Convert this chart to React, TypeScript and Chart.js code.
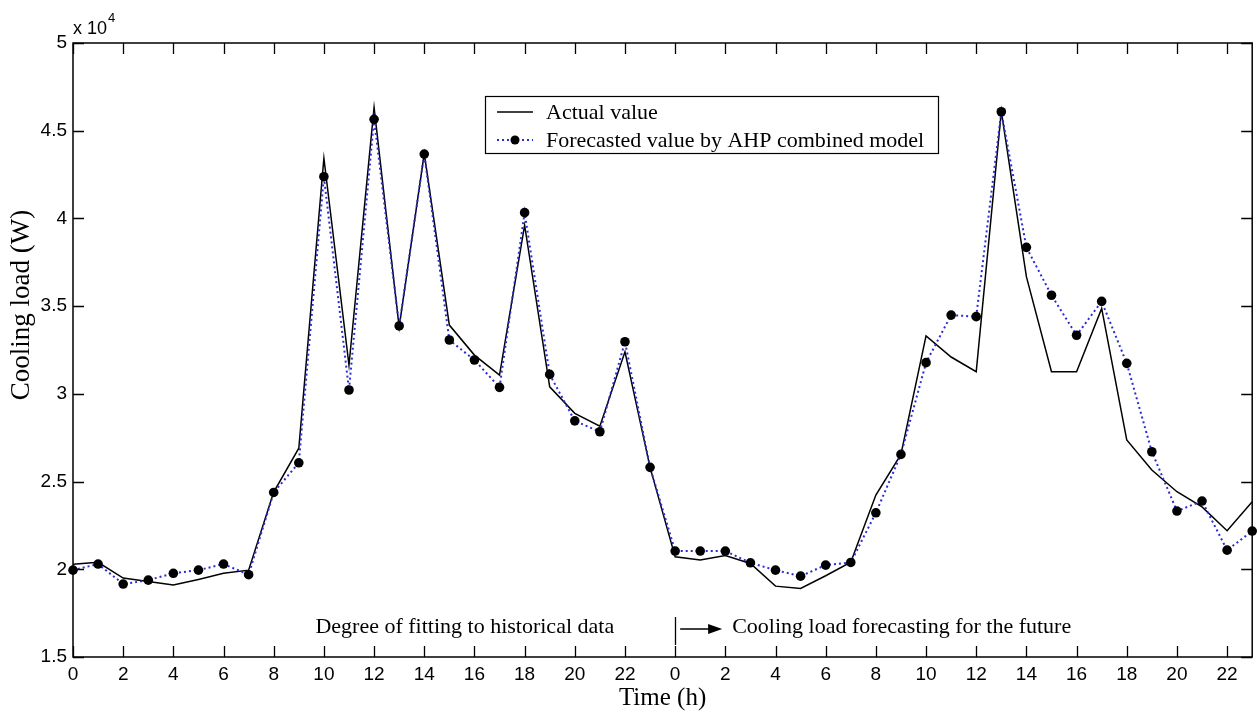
import React, { useEffect, useRef } from "react";
import { Chart, registerables } from "chart.js";

Chart.register(...registerables);

// Hour index over two consecutive days (0..23 historical, 24..47 forecast)
const hourIndex = [
  0, 1, 2, 3, 4, 5, 6, 7, 8, 9, 10, 11, 12, 13, 14, 15, 16, 17, 18, 19, 20, 21, 22, 23,
  24, 25, 26, 27, 28, 29, 30, 31, 32, 33, 34, 35, 36, 37, 38, 39, 40, 41, 42, 43, 44, 45, 46, 47,
];

// x tick positions and their hour-of-day labels
const xTickValues = [0, 2, 4, 6, 8, 10, 12, 14, 16, 18, 20, 22, 24, 26, 28, 30, 32, 34, 36, 38, 40, 42, 44, 46];
const xTickLabels = ["0", "2", "4", "6", "8", "10", "12", "14", "16", "18", "20", "22", "0", "2", "4", "6", "8", "10", "12", "14", "16", "18", "20", "22"];

// Cooling load (W)
const actualLoad = [
  20280, 20400, 19500, 19300, 19100, 19420, 19770, 19950, 24400, 26900, 43430, 31640,
  46330, 33800, 43700, 33920, 32210, 31070, 39620, 30400, 28890, 28160, 32400, 25810,
  20710, 20530, 20790, 20330, 19040, 18910, 19630, 20400, 24230, 26550, 33300, 32100,
  31260, 46100, 36680, 31260, 31260, 34870, 27370, 25660, 24420, 23560, 22200, 23850,
];

const forecastLoad = [
  19950, 20300, 19160, 19380, 19770, 19950, 20300, 19690, 24380, 26070, 42380, 30220,
  45650, 33870, 43670, 33070, 31930, 30370, 40330, 31110, 28460, 27840, 32970, 25810,
  21040, 21040, 21040, 20370, 19950, 19610, 20240, 20390, 23220, 26550, 31780, 34490,
  34400, 46080, 38350, 35620, 33340, 35270, 31740, 26700, 23320, 23890, 21090, 22180,
];

const seriesNames = ["Actual value", "Forecasted value by AHP combined model"];
const xTitle = "Time (h)";
const yTitle = "Cooling load (W)";
const leftNote = "Degree of fitting to historical data";
const rightNote = "Cooling load forecasting for the future";
const splitHour = 24;

const SANS = '"Liberation Sans", Arial, sans-serif';
const SERIF = '"Liberation Serif", "Times New Roman", serif';

const framePlugin = {
  id: "frame",
  afterDraw(chart: any) {
    const { ctx, chartArea: a, scales } = chart;
    const xs = scales.x;
    const ys = scales.y;
    ctx.save();
    ctx.strokeStyle = "#000";
    ctx.lineWidth = 1.5;
    ctx.strokeRect(a.left, a.top, a.right - a.left, a.bottom - a.top);

    // inward ticks on all four sides
    const tl = 11;
    ctx.lineWidth = 1.3;
    ctx.beginPath();
    xs.ticks.forEach((t: any) => {
      const px = Math.round(xs.getPixelForValue(t.value)) + 0.5;
      ctx.moveTo(px, a.bottom);
      ctx.lineTo(px, a.bottom - tl);
      ctx.moveTo(px, a.top);
      ctx.lineTo(px, a.top + tl);
    });
    ys.ticks.forEach((t: any) => {
      const py = Math.round(ys.getPixelForValue(t.value)) + 0.5;
      ctx.moveTo(a.left, py);
      ctx.lineTo(a.left + tl, py);
      ctx.moveTo(a.right, py);
      ctx.lineTo(a.right - tl, py);
    });
    ctx.stroke();

    // exponent label
    ctx.fillStyle = "#000";
    ctx.textAlign = "left";
    ctx.textBaseline = "alphabetic";
    ctx.font = `18px ${SANS}`;
    ctx.fillText("x 10", a.left, a.top - 9);
    const w = ctx.measureText("x 10").width;
    ctx.font = `13px ${SANS}`;
    ctx.fillText("4", a.left + w + 1, a.top - 21);

    // y axis title
    ctx.save();
    ctx.translate(22, 305);
    ctx.rotate(-Math.PI / 2);
    ctx.font = `27px ${SERIF}`;
    ctx.textAlign = "center";
    ctx.textBaseline = "middle";
    ctx.fillText(yTitle, 0, 0);
    ctx.restore();

    // annotations about historical / forecast split
    const sx = xs.getPixelForValue(splitHour);
    ctx.font = `22px ${SERIF}`;
    ctx.textAlign = "right";
    ctx.fillText(leftNote, sx - 61, 633);
    ctx.textAlign = "left";
    ctx.fillText(rightNote, sx + 57, 633);
    ctx.lineWidth = 1.3;
    ctx.beginPath();
    ctx.moveTo(Math.round(sx) + 0.5, 617);
    ctx.lineTo(Math.round(sx) + 0.5, 645);
    ctx.moveTo(sx + 5, 629);
    ctx.lineTo(sx + 36, 629);
    ctx.stroke();
    ctx.beginPath();
    ctx.moveTo(sx + 47, 629);
    ctx.lineTo(sx + 33, 624);
    ctx.lineTo(sx + 33, 634);
    ctx.closePath();
    ctx.fill();

    // legend box
    const lx = 485, ly = 96, lw = 453, lh = 57;
    ctx.fillStyle = "#fff";
    ctx.fillRect(lx, ly, lw, lh);
    ctx.strokeStyle = "#000";
    ctx.lineWidth = 1.2;
    ctx.strokeRect(lx + 0.5, ly + 0.5, lw, lh);
    ctx.lineWidth = 1.5;
    ctx.beginPath();
    ctx.moveTo(497, 112);
    ctx.lineTo(533, 112);
    ctx.stroke();
    ctx.strokeStyle = "#2b2bd9";
    ctx.lineWidth = 2;
    ctx.setLineDash([2, 3]);
    ctx.beginPath();
    ctx.moveTo(497, 140);
    ctx.lineTo(533, 140);
    ctx.stroke();
    ctx.setLineDash([]);
    ctx.fillStyle = "#000";
    ctx.beginPath();
    ctx.arc(515, 140, 4.5, 0, Math.PI * 2);
    ctx.fill();
    ctx.font = `22px ${SERIF}`;
    ctx.textAlign = "left";
    ctx.fillText(seriesNames[0], 546, 119);
    ctx.fillText(seriesNames[1], 546, 147);
    ctx.restore();
  },
};

export default function App() {
  const ref = useRef<HTMLCanvasElement | null>(null);
  useEffect(() => {
    if (!ref.current) return;
    const chart = new Chart(ref.current, {
      type: "line",
      data: {
        labels: hourIndex,
        datasets: [
          {
            label: seriesNames[1],
            data: hourIndex.map((h, i) => ({ x: h, y: forecastLoad[i] })),
            borderColor: "#2b2bd9",
            borderWidth: 2,
            borderDash: [2, 3],
            pointRadius: 4.8,
            pointBackgroundColor: "#000",
            pointBorderWidth: 0,
            tension: 0,
            clip: false,
            order: 0,
          },
          {
            label: seriesNames[0],
            data: hourIndex.map((h, i) => ({ x: h, y: actualLoad[i] })),
            borderColor: "#000",
            borderWidth: 1.5,
            pointRadius: 0,
            tension: 0,
            order: 1,
          },
        ],
      },
      options: {
        animation: false,
        responsive: false,
        devicePixelRatio: 1,
        layout: { padding: { left: 0, right: 0, top: 43, bottom: 0 } },
        plugins: {
          legend: { display: false },
          tooltip: { enabled: false },
        },
        scales: {
          x: {
            type: "linear",
            min: 0,
            max: 47,
            grid: { display: false, drawTicks: false },
            border: { display: false },
            ticks: {
              autoSkip: false,
              maxRotation: 0,
              padding: 6,
              color: "#000",
              font: { family: SANS, size: 19 },
              callback: (v: any) => {
                const k = xTickValues.indexOf(Number(v));
                return k >= 0 ? xTickLabels[k] : "";
              },
            },
            afterBuildTicks: (s: any) => {
              s.ticks = xTickValues.map((v) => ({ value: v }));
            },
            title: {
              display: true,
              text: xTitle,
              color: "#000",
              font: { family: SERIF, size: 25 },
              padding: { top: 0, bottom: 4 },
            },
            afterFit: (s: any) => {
              s.height = 60;
              s.paddingLeft = 0;
              s.paddingRight = 0;
            },
          },
          y: {
            min: 15000,
            max: 50000,
            grid: { display: false, drawTicks: false },
            border: { display: false },
            ticks: {
              stepSize: 5000,
              padding: 6,
              color: "#000",
              font: { family: SANS, size: 19 },
              callback: (v: any) => String(Number(v) / 10000),
            },
            title: { display: false },
            afterFit: (s: any) => {
              s.width = 73;
              s.paddingTop = 0;
              s.paddingBottom = 0;
            },
          },
        },
      },
      plugins: [framePlugin],
    });
    return () => chart.destroy();
  }, []);

  return (
    <div style={{ position: "absolute", left: 0, top: 0, width: 1257, height: 717, background: "#fff" }}>
      <canvas ref={ref} width={1257} height={717} style={{ width: 1257, height: 717, display: "block" }} />
    </div>
  );
}
